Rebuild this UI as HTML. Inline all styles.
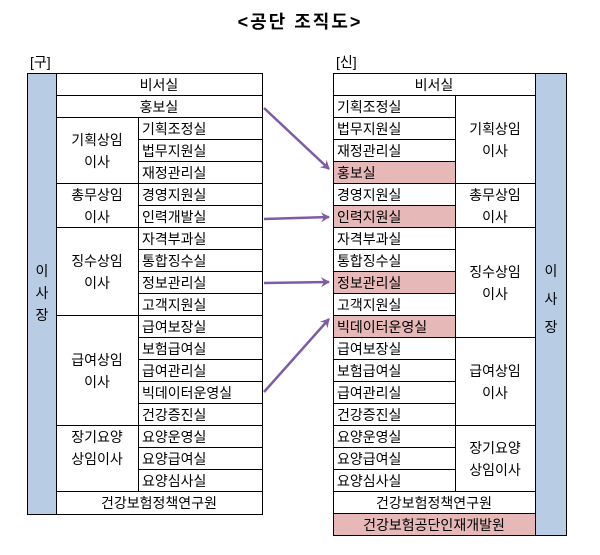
<!DOCTYPE html>
<html><head><meta charset="utf-8"><style>
body{margin:0;background:#fff;}
svg text{font-family:"Liberation Sans","Noto Sans CJK KR","NanumGothic",sans-serif;font-size:14px;fill:#000;}
</style></head><body>
<svg width="600" height="550" viewBox="0 0 600 550" xmlns="http://www.w3.org/2000/svg">
<defs><marker id="ah" markerWidth="10" markerHeight="10" refX="8" refY="5" orient="auto" markerUnits="userSpaceOnUse"><path d="M0,0 L9,5 L0,10 L3,5 Z" fill="#7E5BA8"/></marker></defs>
<text x="300" y="28" text-anchor="middle" style="font-size:18px;font-weight:bold;letter-spacing:2px">&lt;공단 조직도&gt;</text>
<text x="30" y="67">[구]</text>
<text x="336" y="67">[신]</text>
<g stroke="#000" stroke-width="1" fill="none">
<rect x="27.5" y="73.5" width="29" height="441" fill="#B8CCE4"/>
<rect x="56.5" y="73.5" width="206" height="441" fill="#fff"/>
<path d="M56.5 95.5H262.5M56.5 117.5H262.5M56.5 183.5H262.5M56.5 227.5H262.5M56.5 315.5H262.5M56.5 425.5H262.5M56.5 491.5H262.5
M138.5 117.5V491.5
M138.5 139.5H262.5M138.5 161.5H262.5M138.5 205.5H262.5M138.5 249.5H262.5M138.5 271.5H262.5M138.5 293.5H262.5M138.5 337.5H262.5M138.5 359.5H262.5M138.5 381.5H262.5M138.5 403.5H262.5M138.5 447.5H262.5M138.5 469.5H262.5"/>
<rect x="535.5" y="73.5" width="31" height="462" fill="#B8CCE4"/>
<rect x="333.5" y="73.5" width="202" height="462" fill="#fff"/>
<rect x="333.5" y="161.5" width="122" height="22" fill="#E6B8B7"/>
<rect x="333.5" y="205.5" width="122" height="22" fill="#E6B8B7"/>
<rect x="333.5" y="271.5" width="122" height="22" fill="#E6B8B7"/>
<rect x="333.5" y="315.5" width="122" height="22" fill="#E6B8B7"/>
<rect x="333.5" y="513.5" width="202" height="22" fill="#E6B8B7"/>
<path d="M333.5 95.5H535.5M333.5 183.5H535.5M333.5 227.5H535.5M333.5 337.5H535.5M333.5 425.5H535.5M333.5 491.5H535.5
M455.5 95.5V491.5
M333.5 117.5H455.5M333.5 139.5H455.5M333.5 161.5H455.5M333.5 205.5H455.5M333.5 249.5H455.5M333.5 271.5H455.5M333.5 293.5H455.5M333.5 315.5H455.5M333.5 359.5H455.5M333.5 381.5H455.5M333.5 403.5H455.5M333.5 447.5H455.5M333.5 469.5H455.5"/>
</g>
<text x="42" y="276" text-anchor="middle">이</text>
<text x="42" y="298" text-anchor="middle">사</text>
<text x="42" y="320" text-anchor="middle">장</text>
<g text-anchor="middle">
<text x="159" y="90">비서실</text>
<text x="159" y="112">홍보실</text>
<text x="97" y="145">기획상임</text><text x="97" y="167">이사</text>
<text x="97" y="200">총무상임</text><text x="97" y="222">이사</text>
<text x="97" y="266">징수상임</text><text x="97" y="288">이사</text>
<text x="97" y="365">급여상임</text><text x="97" y="387">이사</text>
<text x="97" y="442">장기요양</text><text x="97" y="464">상임이사</text>
<text x="159" y="508">건강보험정책연구원</text>
</g>
<g>
<text x="142" y="134">기획조정실</text><text x="142" y="156">법무지원실</text><text x="142" y="178">재정관리실</text>
<text x="142" y="200">경영지원실</text><text x="142" y="222">인력개발실</text>
<text x="142" y="244">자격부과실</text><text x="142" y="266">통합징수실</text><text x="142" y="288">정보관리실</text><text x="142" y="310">고객지원실</text>
<text x="142" y="332">급여보장실</text><text x="142" y="354">보험급여실</text><text x="142" y="376">급여관리실</text><text x="142" y="398">빅데이터운영실</text><text x="142" y="420">건강증진실</text>
<text x="142" y="442">요양운영실</text><text x="142" y="464">요양급여실</text><text x="142" y="486">요양심사실</text>
</g>
<text x="551" y="276" text-anchor="middle">이</text>
<text x="551" y="304" text-anchor="middle">사</text>
<text x="551" y="332" text-anchor="middle">장</text>
<g text-anchor="middle">
<text x="434" y="90">비서실</text>
<text x="495" y="134">기획상임</text><text x="495" y="156">이사</text>
<text x="495" y="200">총무상임</text><text x="495" y="222">이사</text>
<text x="495" y="277">징수상임</text><text x="495" y="299">이사</text>
<text x="495" y="376">급여상임</text><text x="495" y="398">이사</text>
<text x="495" y="453">장기요양</text><text x="495" y="475">상임이사</text>
<text x="434" y="508">건강보험정책연구원</text>
<text x="434" y="530">건강보험공단인재개발원</text>
</g>
<g>
<text x="337" y="112">기획조정실</text><text x="337" y="134">법무지원실</text><text x="337" y="156">재정관리실</text><text x="337" y="178">홍보실</text>
<text x="337" y="200">경영지원실</text><text x="337" y="222">인력지원실</text>
<text x="337" y="244">자격부과실</text><text x="337" y="266">통합징수실</text><text x="337" y="288">정보관리실</text><text x="337" y="310">고객지원실</text><text x="337" y="332">빅데이터운영실</text>
<text x="337" y="354">급여보장실</text><text x="337" y="376">보험급여실</text><text x="337" y="398">급여관리실</text><text x="337" y="420">건강증진실</text>
<text x="337" y="442">요양운영실</text><text x="337" y="464">요양급여실</text><text x="337" y="486">요양심사실</text>
</g>
<g stroke="#7E5BA8" stroke-width="2.5" fill="none" marker-end="url(#ah)">
<line x1="264" y1="108" x2="329" y2="169"/>
<line x1="264" y1="219" x2="329" y2="217"/>
<line x1="264" y1="283" x2="329" y2="282"/>
<line x1="264" y1="392" x2="329" y2="319"/>
</g>
</svg>
</body></html>
